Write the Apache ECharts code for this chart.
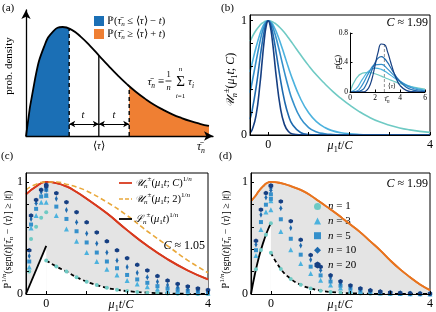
<!DOCTYPE html>
<html><head><meta charset="utf-8">
<script src="https://cdn.jsdelivr.net/npm/echarts@6/dist/echarts.min.js"></script>
<style>html,body{margin:0;padding:0;background:#fff;}#chart{width:436px;height:312px;}</style>
</head><body><div id="chart"></div>
<script>
const FONT = 'Liberation Serif';
// ---------- Panel (a): density ----------
const densX = [0,0.25,0.5,0.75,1,1.25,1.5,1.75,2,2.25,2.5,2.75,3,3.25,3.5,3.75,4,4.25,4.5,4.75,5];
const densY = [0,0.529,0.824,0.963,1,0.974,0.910,0.827,0.736,0.645,0.558,0.478,0.406,0.343,0.287,0.240,0.199,0.165,0.136,0.112,0.092];
const tailLoX = 1.18, tailLoY = 0.986;
const meanX = 1.99, meanY = 0.738;
const tailHiX = 2.82, tailHiY = 0.457;
const arrowY = 0.11;
// ---------- Panel (b): bound curves ----------
const bX = [-0.45,-0.4,-0.3,-0.2,-0.15,-0.1,-0.05,0,0.05,0.1,0.15,0.2,0.3,0.4,0.5,0.6,0.8,1.0,1.2,1.4,1.6,1.8,2.0,2.25,2.5,2.75,3.0,3.25,3.5,3.75,4.0];
const bN1 = [0.820,0.855,0.916,0.962,0.978,0.990,0.998,1,0.998,0.991,0.981,0.969,0.936,0.896,0.851,0.802,0.702,0.607,0.522,0.448,0.380,0.320,0.265,0.205,0.155,0.115,0.085,0.062,0.045,0.032,0.023];
const bN3 = [0.552,0.625,0.768,0.889,0.936,0.971,0.993,1,0.993,0.973,0.942,0.904,0.808,0.700,0.591,0.489,0.317,0.194,0.115,0.065,0.036,0.020,0.011,0.005,0.002,0.001,0,0,0,0,0];
const bN5 = [0.371,0.457,0.644,0.822,0.896,0.952,0.988,1,0.988,0.956,0.906,0.845,0.701,0.552,0.416,0.303,0.147,0.065,0.027,0.011,0.004,0.001,0,0,0,0,0,0,0,0,0];
const bN10 = [0.138,0.209,0.414,0.676,0.802,0.907,0.976,1,0.977,0.913,0.821,0.713,0.491,0.305,0.173,0.092,0.022,0.004,0.001,0,0,0,0,0,0,0,0,0,0,0,0];
const bN20 = [0.019,0.044,0.172,0.457,0.644,0.822,0.952,1,0.954,0.834,0.675,0.509,0.241,0.093,0.030,0.008,0.001,0,0,0,0,0,0,0,0,0,0,0,0,0,0];
// inset densities
const insetXC = [0,0.5,1,1.5,2,2.5,3,3.5,4,4.5,5,5.5,6];
const pA = [0,0.184,0.256,0.267,0.247,0.215,0.179,0.145,0.115,0.090,0.070,0.053,0.040];
const pB = [0,0.045,0.174,0.284,0.325,0.307,0.257,0.197,0.142,0.098,0.065,0.042,0.026];
const pC = [0,0.009,0.101,0.259,0.367,0.375,0.314,0.228,0.149,0.090,0.051,0.028,0.014];
const insetXF = [0,0.5,1,1.25,1.5,1.75,2,2.25,2.5,2.75,3,3.25,3.5,3.75,4,4.5,5,5.5,6];
const pD = [0,0.0004,0.029,0.088,0.183,0.296,0.396,0.460,0.479,0.455,0.401,0.332,0.261,0.196,0.141,0.066,0.028,0.011,0.004];
const pE = [0,0,0.001,0.011,0.057,0.173,0.356,0.541,0.651,0.645,0.548,0.407,0.270,0.163,0.090,0.022,0.004,0.001,0];
const insetMean = 2.75, insetMeanTop = 0.66;
// ---------- Panel (c) ----------
const cUpX = [-0.5,-0.25,0,0.25,0.5,0.75,1,1.5,2,2.5,3,3.5,4];
const cUpY = [0.89,0.96,1,0.99,0.96,0.91,0.85,0.72,0.57,0.43,0.31,0.21,0.13];
const cUp2Y = [0.93,0.98,1,1.0,0.98,0.955,0.92,0.82,0.70,0.56,0.43,0.30,0.19];
const cLowLX = [-0.5,0], cLowLY = [0,0.43];
const cLowRX = [0,0.25,0.5,0.75,1,1.25,1.5,1.75,2,2.5,3,3.5,4];
const cLowRY = [0.30,0.245,0.2,0.15,0.11,0.08,0.055,0.038,0.026,0.012,0.005,0.002,0.001];
const cLeftX = [-0.42,-0.375,-0.25,-0.125,0];
const ptRightX = [0,0.25,0.5,0.75,1,1.25,1.5,1.75,2,2.25,2.5,2.75,3,3.25,3.5,3.75,4];
const cN1L = [0.20,0.49,0.60,0.68,0.73], cN3L = [0.24,0.59,0.70,0.82,0.88], cN5L = [0.29,0.62,0.76,0.87,0.93], cN10L = [0.34,0.67,0.81,0.91,0.96], cN20L = [0.39,0.70,0.84,0.93,0.975];
const cN1R = [0.30,0.245,0.2,0.15,0.11,0.08,0.055,0.038,0.026,0.018,0.012,0.008,0.005,0.003,0.002,0.001,0.001];
const cN3R = [0.82,0.7,0.58,0.47,0.37,0.29,0.22,0.17,0.12,0.09,0.065,0.045,0.032,0.023,0.016,0.011,0.008];
const cN5R = [0.88,0.78,0.67,0.56,0.46,0.37,0.29,0.23,0.17,0.13,0.1,0.07,0.05,0.037,0.027,0.02,0.014];
const cN10R = [0.93,0.85,0.75,0.64,0.54,0.45,0.37,0.30,0.24,0.19,0.15,0.11,0.08,0.06,0.045,0.033,0.024];
const cN20R = [0.96,0.9,0.82,0.73,0.64,0.55,0.47,0.39,0.32,0.26,0.21,0.16,0.12,0.09,0.068,0.05,0.036];
// ---------- Panel (d) ----------
const dUpX = [-0.5,-0.4,-0.3,-0.2,-0.1,0,0.1,0.2,0.3,0.4,0.5,0.6,0.8,1,1.2,1.4,1.6,1.8,2,2.25,2.5,2.75,3,3.25,3.5,3.75,4];
const dUpY = [0.83,0.87,0.92,0.96,0.99,1,0.998,0.993,0.985,0.975,0.963,0.95,0.92,0.88,0.83,0.78,0.73,0.675,0.62,0.55,0.47,0.39,0.30,0.22,0.15,0.085,0.035];
const dLowLX = [-0.5,-0.4,-0.3,-0.2,-0.1,0], dLowLY = [0,0.181,0.330,0.451,0.551,0.632];
const dLowRX = [0,0.25,0.5,0.75,1,1.25,1.5,2,2.5,3,3.5,4];
const dLowRY = [0.368,0.223,0.135,0.082,0.050,0.030,0.018,0.0067,0.0025,0.0009,0.0003,0.0001];
const dLeftX = [-0.375,-0.25,-0.125,0];
const dN1L = [0.221,0.393,0.528,0.632], dN3L = [0.343,0.576,0.731,0.832], dN5L = [0.391,0.642,0.797,0.890], dN10L = [0.441,0.708,0.861,0.941], dN20L = [0.475,0.753,0.901,0.969];
const dN1R = [0.368,0.223,0.135,0.082,0.050,0.030,0.018,0.011,0.007,0.004,0.0025,0.0015,0.0009,0.0006,0.0003,0.0002,0.0001];
const dN3R = [0.751,0.558,0.396,0.273,0.184,0.122,0.081,0.053,0.034,0.022,0.014,0.009,0.006,0.004,0.002,0.0015,0.001];
const dN5R = [0.849,0.667,0.493,0.351,0.244,0.166,0.111,0.074,0.049,0.032,0.021,0.013,0.0085,0.0055,0.0035,0.0023,0.0015];
const dN10R = [0.925,0.766,0.589,0.432,0.306,0.212,0.144,0.097,0.065,0.043,0.028,0.018,0.012,0.008,0.005,0.003,0.002];
const dN20R = [0.963,0.826,0.650,0.484,0.347,0.243,0.167,0.113,0.076,0.050,0.033,0.022,0.014,0.009,0.006,0.004,0.0025];
const nNames = ['n = 1','n = 3','n = 5','n = 10','n = 20'];

// ---------- styles ----------
const C_BLUE = '#1b6fb5', C_ORANGE = '#ef7f33';
const nColors = ['#6fcac4','#4cb2de','#3590cb','#1f6aae','#163f82'];
const hexPath = 'path://M0,-10L8.66,-5L8.66,5L0,10L-8.66,5L-8.66,-5Z';
const nSymbols = ['circle','triangle','rect','diamond',hexPath];
const nSizes = [4,5,4,[3,6],4.5];
const GRAY = '#e4e4e4';

const pairs = (xs, ys) => xs.map((x,i)=>[x, ys[i]]);
function line(xi, xs, ys, color, width, extra) {
  return Object.assign({type:'line', xAxisIndex:xi, yAxisIndex:xi, data:pairs(xs,ys), showSymbol:false, symbol:'none',
    smooth:true, lineStyle:{color, width}, silent:true, z:3}, extra||{});
}
function rich(fs) {
  const b = {fontFamily:FONT, fontSize:fs, fill:'#000', color:'#000', lineHeight:Math.round(fs*1.35)};
  return {
    r: Object.assign({}, b),
    i: Object.assign({}, b, {fontStyle:'italic'}),
    s: Object.assign({}, b, {fontFamily:'DejaVu Serif', fontStyle:'italic', fontSize:fs*0.95}),
    sb: Object.assign({}, b, {fontSize:fs*0.68, fontStyle:'italic', lineHeight:Math.round(fs*0.75), verticalAlign:'bottom'}),
    sbr: Object.assign({}, b, {fontSize:fs*0.68, lineHeight:Math.round(fs*0.75), verticalAlign:'bottom'}),
    sp: Object.assign({}, b, {fontSize:fs*0.68, lineHeight:Math.round(fs*0.75), verticalAlign:'top'}),
    spi: Object.assign({}, b, {fontSize:fs*0.68, fontStyle:'italic', lineHeight:Math.round(fs*0.75), verticalAlign:'top'})
  };
}
function T(x, y, text, fs, align, rot, color) {
  return {type:'text', x, y, rotation: rot||0, z:100, silent:true,
    style:{text, rich:rich(fs), font: fs+'px '+FONT, fill: color||'#000', align: align||'left', verticalAlign:'middle',
      textAlign: align||'left', textVerticalAlign:'middle'}};
}
function boxAxis(gi, min, max, ticks, labels, isX) {
  return {type:'value', gridIndex:gi, min, max, z:10,
    axisLine:{show:true, onZero:false, lineStyle:{color:'#000', width:1}},
    axisTick:{show:true, inside:true, length:3, customValues:ticks, lineStyle:{color:'#000', width:1}},
    axisLabel:{show:true, customValues:labels, margin: isX?4:3, fontFamily:FONT, fontSize:12, color:'#000'},
    splitLine:{show:false}};
}

// panel (a) derived data
const densPairs = pairs(densX, densY);
const blueFill = densPairs.filter(p=>p[0] < tailLoX).concat([[tailLoX, tailLoY]]);
const orangeFill = [[tailHiX, tailHiY]].concat(densPairs.filter(p=>p[0] > tailHiX));

const series = [];
// (a)
series.push({type:'line', xAxisIndex:0, yAxisIndex:0, data:blueFill, smooth:true, symbol:'none', lineStyle:{width:0}, areaStyle:{color:C_BLUE, opacity:1}, z:1, silent:true});
series.push({type:'line', xAxisIndex:0, yAxisIndex:0, data:orangeFill, smooth:true, symbol:'none', lineStyle:{width:0}, areaStyle:{color:C_ORANGE, opacity:1}, z:1, silent:true});
series.push(line(0, densX, densY, '#000', 1.8));
series.push({type:'line', xAxisIndex:0, yAxisIndex:0, data:[[tailLoX,0],[tailLoX,tailLoY]], symbol:'none', lineStyle:{color:'#000', width:1.4, type:[4,3]}, z:4, silent:true});
series.push({type:'line', xAxisIndex:0, yAxisIndex:0, data:[[tailHiX,0],[tailHiX,tailHiY]], symbol:'none', lineStyle:{color:'#000', width:1.4, type:[4,3]}, z:4, silent:true});
series.push({type:'line', xAxisIndex:0, yAxisIndex:0, data:[[meanX,0],[meanX,meanY]], symbol:'none', lineStyle:{color:'#000', width:1.3}, z:4, silent:true,
  markLine:{silent:true, symbol:['arrow','arrow'], symbolSize:[5,6], label:{show:false}, lineStyle:{color:'#000', width:1, type:'solid'},
    data:[[{coord:[tailLoX,arrowY]},{coord:[meanX,arrowY]}],[{coord:[meanX,arrowY]},{coord:[tailHiX,arrowY]}]]}});
// (b)
[bN1,bN3,bN5,bN10,bN20].forEach((ys,k)=>series.push(line(1, bX, ys, nColors[k], 1.6)));
// inset
[[insetXC,pA],[insetXC,pB],[insetXC,pC],[insetXF,pD],[insetXF,pE]].forEach((d,k)=>series.push(line(2, d[0], d[1], nColors[k], 1.2)));
series.push({type:'line', xAxisIndex:2, yAxisIndex:2, data:[[insetMean,0],[insetMean,insetMeanTop]], symbol:'none', lineStyle:{color:'#888', width:0.9, type:[3,2]}, z:2, silent:true});
// (c) & (d)
function boundPanel(xi, upX, upY, lowLX, lowLY, lowRX, lowRY, upColor) {
  series.push(Object.assign(line(xi, upX, upY, upColor, 1.8), {areaStyle:{color:GRAY, opacity:1, origin:'start'}, z:1}));
  series.push({type:'line', xAxisIndex:xi, yAxisIndex:xi, data:pairs(lowLX,lowLY), smooth:true, symbol:'none', lineStyle:{width:0}, areaStyle:{color:'#fff', opacity:1, origin:'start'}, z:2, silent:true});
  series.push({type:'line', xAxisIndex:xi, yAxisIndex:xi, data:pairs(lowRX,lowRY), smooth:true, symbol:'none', lineStyle:{width:0}, areaStyle:{color:'#fff', opacity:1, origin:'start'}, z:2, silent:true});
  series.push(line(xi, upX, upY, upColor, 1.8, {z:4}));
  series.push(line(xi, lowLX, lowLY, '#000', 1.8, {z:4}));
  series.push(line(xi, lowRX, lowRY, '#000', 1.8, {z:4, lineStyle:{color:'#000', width:1.8, type:[4,3]}}));
}
boundPanel(3, cUpX, cUpY, cLowLX, cLowLY, cLowRX, cLowRY, '#d8391d');
series.push(line(3, cUpX, cUp2Y, '#e9a83b', 1.6, {z:4, lineStyle:{color:'#e9a83b', width:1.6, type:[5,3]}}));
boundPanel(4, dUpX, dUpY, dLowLX, dLowLY, dLowRX, dLowRY, '#e8741f');
function scatters(xi, leftX, L, R) {
  L.forEach((ly,k)=>{
    series.push({type:'scatter', name:nNames[k], xAxisIndex:xi, yAxisIndex:xi,
      data: pairs(leftX, ly).concat(pairs(ptRightX, R[k])),
      symbol:nSymbols[k], symbolSize:nSizes[k], itemStyle:{color:nColors[k], opacity:1}, z:6, silent:true});
  });
}
scatters(3, cLeftX, [cN1L,cN3L,cN5L,cN10L,cN20L], [cN1R,cN3R,cN5R,cN10R,cN20R]);
scatters(4, dLeftX, [dN1L,dN3L,dN5L,dN10L,dN20L], [dN1R,dN3R,dN5R,dN10R,dN20R]);

const arrowAxis = (gi, max) => ({type:'value', gridIndex:gi, min:0, max, z:10,
  axisLine:{show:true, onZero:false, symbol:['none','arrow'], symbolSize:[7,9], lineStyle:{color:'#000', width:1.3}},
  axisTick:{show:false}, axisLabel:{show:false}, splitLine:{show:false}});

const xT = [0,1,2,3,4], xL = [0,4], yT = [0,0.2,0.4,0.6,0.8,1], yL = [0,1];
const option = {
  animation:false,
  backgroundColor:'#fff',
  grid:[
    {left:26, top:10, width:187, height:126},
    {left:250, top:15, width:181, height:120, show:true, borderColor:'#000', borderWidth:1},
    {left:350, top:33, width:75, height:59},
    {left:26, top:173, width:182, height:121, show:true, borderColor:'#000', borderWidth:1},
    {left:251, top:173, width:180, height:121, show:true, borderColor:'#000', borderWidth:1}
  ],
  xAxis:[
    arrowAxis(0, 5.11),
    boxAxis(1, -0.45, 4, xT, xL, true),
    {type:'value', gridIndex:2, min:0, max:6, interval:2, z:10,
      axisLine:{show:true, onZero:false, lineStyle:{color:'#000', width:1}},
      axisTick:{show:true, inside:true, length:2.5, lineStyle:{color:'#000'}},
      axisLabel:{fontFamily:FONT, fontSize:7.5, color:'#000', margin:2}, splitLine:{show:false}},
    boxAxis(3, -0.5, 4, xT, xL, true),
    boxAxis(4, -0.5, 4, xT, xL, true)
  ],
  yAxis:[
    arrowAxis(0, 1.156),
    boxAxis(1, 0, 1.05, yT, yL, false),
    {type:'value', gridIndex:2, min:0, max:0.8, interval:0.4, z:10,
      axisLine:{show:true, onZero:false, lineStyle:{color:'#000', width:1}},
      axisTick:{show:true, inside:true, length:2.5, lineStyle:{color:'#000'}},
      axisLabel:{fontFamily:FONT, fontSize:7.5, color:'#000', margin:2, formatter:v=> v===0?'0':v.toFixed(1)}, splitLine:{show:false}},
    boxAxis(3, 0, 1.08, yT, yL, false),
    boxAxis(4, 0, 1.08, yT, yL, false)
  ],
  legend:{left:309, top:196, orient:'vertical', itemGap:3.6, itemWidth:7, itemHeight:7, data:nNames, selectedMode:false,
    formatter: nm => '{i|n} = ' + nm.split('= ')[1],
    textStyle:{fontFamily:FONT, fontSize:11, color:'#000', padding:[0,0,0,2], rich:{i:{fontFamily:FONT, fontSize:11, fontStyle:'italic', color:'#000'}}}},
  series,
  graphic:[
    T(2,8,'{r|(a)}',11), T(221,8,'{r|(b)}',11), T(1,156,'{r|(c)}',11), T(219,156,'{r|(d)}',11),
    // (a)
    T(9,66,'{r|prob. density}',11,'center',Math.PI/2),
    T(99,146,'{r|⟨}{i|τ}{r|⟩}',10.5,'center'),
    T(201,147,'{i|τ̄}{sb|n}',11.5,'center'),
    T(83,115,'{i|t}',10.5,'center'), T(114,115,'{i|t}',10.5,'center'),
    {type:'rect', shape:{x:94,y:16,width:10,height:10}, style:{fill:C_BLUE}, z:100},
    {type:'rect', shape:{x:94,y:29,width:10,height:10}, style:{fill:C_ORANGE}, z:100},
    T(107,21,'{r|ℙ(}{i|τ̄}{sb|n}{r| ≤ ⟨}{i|τ}{r|⟩ − }{i|t}{r|)}',10.5),
    T(107,34,'{r|ℙ(}{i|τ̄}{sb|n}{r| ≥ ⟨}{i|τ}{r|⟩ + }{i|t}{r|)}',10.5),
    T(164,82,'{i|τ̄}{sb|n}{r| ≡}',11,'right'),
    T(168.5,75,'{r|1}',8.5,'center'), T(168.5,88,'{i|n}',8.5,'center'),
    {type:'line', shape:{x1:165.5,y1:81,x2:171.5,y2:81}, style:{stroke:'#000', lineWidth:0.8}, z:100},
    T(180.5,82,'{r|Σ}',15,'center'), T(180.5,69,'{i|n}',7,'center'), T(180.5,96,'{i|i}{r|=1}',7,'center'),
    T(188,82,'{i|τ}{sb|i}',11),
    // (b)
    T(231,80,'{s|𝒰}{sb|n}{sp|±}{r|(}{i|μ}{sbr|1}{i|t}{r|; }{i|C}{r|)}',12,'center',Math.PI/2),
    T(340,146,'{i|μ}{sbr|1}{i|t}{r|/}{i|C}',12,'center'),
    T(428,23,'{i|C}{r| ≈ 1.99}',12,'right'),
    T(338,62,'{i|p}{r|(}{i|τ̄}{sb|n}{r|)}',7.5,'center',Math.PI/2),
    T(387,99,'{i|τ̄}{sb|n}',7.5,'center'),
    T(392,86,'{r|⟨}{i|τ}{r|⟩}',6.5,'center',0,'#888'),
    // (c)
    T(8,240,'{r|ℙ}{sp|1/}{spi|n}{r|(sgn(}{i|t}{r|)[}{i|τ̄}{sb|n}{r| − ⟨}{i|τ}{r|⟩] ≥ |}{i|t}{r||)}',10,'center',Math.PI/2),
    T(121,305,'{i|μ}{sbr|1}{i|t}{r|/}{i|C}',12,'center'),
    {type:'line', shape:{x1:119,y1:183,x2:132,y2:183}, style:{stroke:'#d8391d', lineWidth:1.8}, z:100},
    {type:'line', shape:{x1:119,y1:199,x2:132,y2:199}, style:{stroke:'#e9a83b', lineWidth:1.6, lineDash:[4,2]}, z:100},
    {type:'line', shape:{x1:119,y1:219,x2:132,y2:219}, style:{stroke:'#000', lineWidth:1.8}, z:100},
    T(135,183,'{s|𝒰}{sb|n}{sp|±}{r|(}{i|μ}{sbr|1}{i|t}{r|; }{i|C}{r|)}{sp|1/}{spi|n}',10.5),
    T(135,199,'{s|𝒰}{sb|n}{sp|±}{r|(}{i|μ}{sbr|1}{i|t}{r|; 2)}{sp|1/}{spi|n}',10.5),
    T(135,219,'{s|ℒ}{sb|n}{sp|±}{r|(}{i|μ}{sbr|1}{i|t}{r|)}{sp|1/}{spi|n}',10.5),
    T(205,246,'{i|C}{r| ≈ 1.05}',12,'right'),
    // (d)
    T(226,240,'{r|ℙ}{sp|1/}{spi|n}{r|(sgn(}{i|t}{r|)[}{i|τ̄}{sb|n}{r| − ⟨}{i|τ}{r|⟩] ≥ |}{i|t}{r||)}',10,'center',Math.PI/2),
    T(340,305,'{i|μ}{sbr|1}{i|t}{r|/}{i|C}',12,'center'),
    T(428,184,'{i|C}{r| ≈ 1.99}',12,'right')
  ]
};
const chart = echarts.init(document.getElementById('chart'), null, {renderer:'canvas'});
chart.setOption(option);
</script></body></html>
